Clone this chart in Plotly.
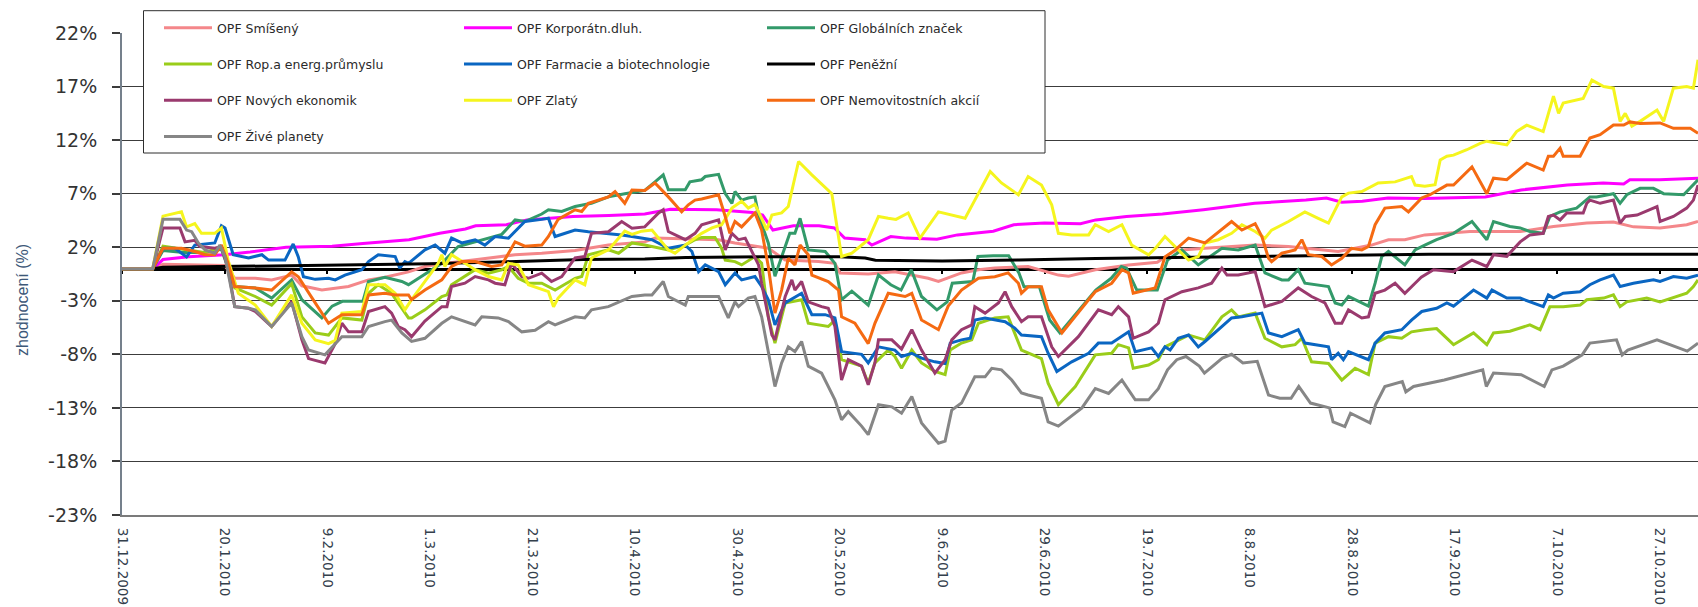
import pandas as pd
import plotly.graph_objects as go

# ---------------- data (day offsets from 31.12.2009, values in %) ----------------
BASE = pd.Timestamp("2009-12-31")

tick_days = [0, 20, 40, 60, 80, 100, 120, 140, 160, 180, 200, 220, 240, 260, 280, 300]
tick_labels = ["31.12.2009", "20.1.2010", "9.2.2010", "1.3.2010", "21.3.2010", "10.4.2010",
               "30.4.2010", "20.5.2010", "9.6.2010", "29.6.2010", "19.7.2010", "8.8.2010",
               "28.8.2010", "17.9.2010", "7.10.2010", "27.10.2010"]
y_ticks = [-23, -18, -13, -8, -3, 2, 7, 12, 17, 22]
y_tick_labels = ["-23%", "-18%", "-13%", "-8%", "-3%", "2%", "7%", "12%", "17%", "22%"]
y_title = "zhodnocení (%)"

smiseny_days = [0, 6, 8, 15, 20, 22, 26, 29.2, 33.1, 35.1,
                39, 44.2, 48.1, 51.3, 55.9, 59.1, 62.4, 68.9, 76.7, 81.9,
                88.4, 94.9, 102, 104, 116.4, 119.6, 122.9, 126.1, 129.4, 135.9,
                139.1, 140.1, 145.6, 150.8, 157.3, 159.3, 163.8, 167.1, 170.3, 176.8,
                182.7, 184.7, 189.9, 196.4, 202, 205.5, 211.3, 221.1, 227.6, 234.1,
                237.3, 240.6, 243.8, 247.1, 250.3, 254.2, 263, 272.8, 279.3, 285.8,
                291, 294.9, 300.1, 305.3, 307.5]
smiseny_vals = [0, 0, 0.4, 0.35, 0.3, -0.9, -0.9, -1.05, -0.6, -1.6,
                -2.0, -1.67, -1.05, -0.8, -0.3, 0.2, 0.45, 0.82, 1.3, 1.44,
                1.7, 2.2, 2.5, 2.85, 2.7, 2.4, 2.15, 1.9, 0.8, 0.66,
                0.5, -0.4, -0.5, -0.3, -0.9, -1.2, -0.4, -0.1, 0.05, 0.2,
                -0.6, -0.7, -0.1, 0.35, 0.6, 1.7, 1.9, 2.2, 2.07, 1.75,
                1.6, 1.9, 2.2, 2.7, 2.7, 3.15, 3.47, 3.47, 3.93, 4.25,
                4.35, 3.9, 3.8, 4.1, 4.4]

korporatni_days = [0, 6, 8, 13, 20, 25, 32, 41, 47, 51,
                   56, 62, 67, 69, 75, 79, 88, 95, 102, 107,
                   116, 123, 125, 127, 131, 136, 139, 141, 145, 146.3,
                   150, 153, 159, 163, 170, 174, 180, 187, 190, 196,
                   203, 211, 221, 231, 235, 238, 242, 247, 254, 266,
                   273, 282, 289, 293, 294.2, 300, 307.5]
korporatni_vals = [0, 0, 0.85, 1.1, 1.3, 1.55, 2.0, 2.1, 2.35, 2.5,
                   2.7, 3.3, 3.7, 4.0, 4.1, 4.55, 4.86, 4.96, 5.1, 5.55,
                   5.5, 5.25, 5.0, 3.6, 4.0, 4.0, 3.8, 2.85, 2.7, 2.2,
                   3.0, 2.85, 2.75, 3.15, 3.5, 4.1, 4.25, 4.2, 4.55, 4.87,
                   5.1, 5.5, 6.1, 6.4, 6.6, 6.2, 6.3, 6.6, 6.55, 6.7,
                   7.35, 7.8, 8.0, 7.9, 8.3, 8.3, 8.45]

globalni_days = [0, 6, 8, 12, 16, 19.4, 22, 26, 29.2, 33.1,
                 35.1, 39, 41, 43, 47, 48.1, 51.3, 54.6, 55.9, 57.8,
                 62.4, 65.6, 68.9, 74.1, 76.7, 78.6, 81.9, 83.2, 85.8, 88.4,
                 91.6, 94.9, 98.1, 102, 104, 105.6, 106.6, 109.9, 110.8, 113.1,
                 113.8, 116.4, 117.7, 119, 119.6, 120.9, 122.2, 123.5, 124.2, 126.1,
                 127.4, 129.4, 130.3, 131.3, 132.3, 133.9, 137.2, 139.1, 140.4, 142.4,
                 145.6, 147.6, 150, 152, 154, 156, 159, 161, 162, 166,
                 167, 170, 173, 175, 176, 179, 181, 183, 190, 193,
                 195, 196, 198, 202, 204, 206.8, 210, 214.6, 217.8, 221.1,
                 223, 226.3, 227.6, 229.5, 230.8, 235.4, 236.7, 238, 239.3, 243.2,
                 244.5, 245.8, 247.1, 250.3, 252.3, 254.2, 256.5, 259.8, 263.4, 266.3,
                 267.6, 270.8, 272.8, 274.7, 277.3, 278.6, 280.6, 283.8, 286.4, 287.7,
                 291, 292.3, 293.6, 296.2, 298.8, 300.8, 304.7, 307.5]
globalni_vals = [0, 0, 1.7, 1.5, 1.5, 1.8, -1.67, -1.8, -2.75, -1.05,
                 -2.9, -4.6, -3.5, -3.05, -3.05, -1.2, -0.8, -1.2, -1.5, -0.9,
                 0.5, 2.07, 2.5, 3.2, 4.55, 4.4, 5.1, 5.5, 5.34, 5.8,
                 6.1, 6.7, 7.0, 7.3, 8.1, 8.75, 7.36, 7.36, 8.1, 8.3,
                 8.6, 8.8, 7.0, 6.1, 7.2, 6.4, 6.6, 6.7, 5.0, 2.4,
                 -0.7, 2.07, 3.3, 3.3, 4.7, 1.75, 1.6, 0.5, -2.9, -2.1,
                 -3.4, -0.6, -1.5, -2.0, -0.1, -2.6, -3.85, -3.1, -1.36, -1.2,
                 1.13, 1.2, 1.2, -0.4, -1.7, -1.7, -4.8, -6.0, -2.0, -0.9,
                 0.2, 0.05, -2.0, -2.0, 0.8, 1.75, 0.35, 1.9, 1.75, 2.2,
                 -0.4, -1.05, -1.05, -0.1, -1.36, -1.67, -3.2, -3.4, -2.6, -3.5,
                 -1.36, 1.13, 1.6, 0.35, 1.75, 2.2, 2.7, 3.3, 4.4, 2.7,
                 4.4, 3.93, 3.8, 3.47, 3.3, 4.87, 5.3, 5.65, 6.7, 6.7,
                 7.0, 6.1, 6.9, 7.5, 7.5, 7.0, 6.9, 8.3]

ropa_days = [0, 6, 8, 12, 16, 19.4, 20.7, 22, 24.7, 26,
             29.2, 33.1, 35.1, 37.7, 40.3, 42.9, 46.8, 48.1, 50, 52.6,
             55.9, 56.5, 59.1, 62.4, 63.4, 64.3, 68.9, 71.5, 74.1, 75.4,
             77.3, 79.3, 81.9, 84.5, 88.4, 89.7, 91, 94.9, 96.9, 99.5,
             102, 103.4, 106.6, 109.9, 111.8, 113.1, 115.7, 117, 117.7, 119.6,
             120.9, 123.5, 124.8, 126.1, 127.4, 129.4, 132.6, 133.9, 137.8, 139.1,
             140.4, 144.3, 145.6, 146.9, 149.5, 150.8, 152.1, 154.1, 156, 158.6,
             160.6, 161.6, 163.8, 165.8, 167.1, 170.3, 172.9, 175.5, 179.4, 180.7,
             182.7, 186, 189.9, 193.1, 194.4, 196.4, 197.3, 200.3, 202.2, 203.5,
             208.1, 211.3, 214.6, 216.5, 217.8, 221.1, 223, 226.3, 228.9, 230.2,
             232.1, 235.4, 238, 240.6, 243.2, 244.5, 247.1, 249.7, 251.6, 254.2,
             256.5, 259.8, 263.7, 266.3, 267.6, 270.8, 274.7, 276.7, 278.6, 281.2,
             284.5, 285.8, 289.1, 291, 292.3, 293.6, 297.5, 300.1, 303.4, 305.3,
             306.6, 307.5]
ropa_vals = [0, 0, 2.1, 1.8, 1.5, 2.0, 0.5, -1.8, -2.3, -2.6,
             -3.4, -1.4, -4.5, -6.0, -6.2, -4.6, -4.8, -2.3, -1.5, -2.3,
             -4.6, -4.6, -3.85, -2.6, -2.45, -1.5, -0.1, -0.42, -0.1, 0.2,
             -0.9, -1.36, -1.36, -2.0, -0.9, -0.74, 1.3, 1.75, 1.44, 2.4,
             2.2, 2.07, 1.75, 2.2, 2.7, 2.9, 2.9, 1.9, 0.8, 0.66,
             0.35, 1.13, 0.5, -4.5, -6.95, -3.2, -2.9, -5.1, -5.4, -4.8,
             -8.5, -9.1, -10.7, -8.8, -7.6, -8.2, -9.3, -7.6, -8.8, -9.6,
             -9.9, -7.6, -6.95, -6.65, -5.1, -4.6, -4.5, -7.6, -8.4, -10.7,
             -12.7, -11.0, -8.05, -7.9, -7.1, -7.4, -9.3, -9.0, -8.5, -7.3,
             -6.2, -6.65, -4.5, -3.85, -4.5, -4.15, -6.5, -7.3, -7.1, -6.5,
             -8.7, -8.85, -10.4, -9.3, -9.9, -6.95, -6.35, -6.5, -5.9, -5.7,
             -5.6, -7.1, -6.0, -7.1, -6.0, -5.85, -5.25, -5.7, -3.55, -3.55,
             -3.4, -2.9, -2.75, -2.45, -3.55, -3.1, -2.75, -3.1, -2.6, -2.3,
             -1.67, -1.05]

farmacie_days = [0, 6, 8, 10.3, 12.6, 14.2, 18.1, 19.4, 20.1, 21.7,
                 24.7, 27.3, 28.6, 31.8, 33.4, 34.4, 35.4, 37.7, 40.3, 41.6,
                 43.5, 46.8, 48.1, 50, 53.3, 54.2, 55.2, 55.9, 59.1, 61.1,
                 63, 64.3, 66.3, 68.9, 70.8, 72.8, 75.4, 76.7, 78.6, 81.9,
                 83.2, 84.5, 88.4, 91, 94.9, 97.5, 99.5, 101, 103.4, 106.6,
                 109.9, 111.2, 112.5, 113.8, 116.4, 117.7, 119.6, 120.9, 123.5, 124.8,
                 126.1, 127.4, 129.4, 132.6, 134.6, 137.2, 139.1, 140.4, 144.3, 145.6,
                 147.6, 150.8, 152.1, 154.1, 156, 158.6, 160.6, 161.6, 163.8, 165.5,
                 166.4, 168.4, 172.3, 174.2, 175.5, 179.4, 180.7, 182.4, 185.3, 188.6,
                 190.5, 193.1, 196.4, 197.7, 200.9, 202.2, 203.5, 204.5, 206.1, 208.1,
                 210, 211.3, 214.6, 216.5, 218.5, 222.4, 223.7, 226.3, 229.5, 230.8,
                 235.4, 236, 237.3, 238.3, 239.3, 243.2, 244.5, 246.4, 249.7, 251.6,
                 253.6, 256.5, 258.5, 259.8, 263.7, 266.3, 267.3, 270.2, 272.8, 277.3,
                 278.3, 279.3, 281.2, 284.5, 286.4, 288.4, 291, 292.3, 294.9, 298.8,
                 300.1, 302.7, 305.3, 307.5]
farmacie_vals = [0, 0, 1.9, 1.9, 1.1, 2.2, 2.4, 4.0, 3.8, 1.3,
                 1.0, 1.3, 0.8, 0.8, 2.3, 1.1, -0.75, -1.0, -0.9, -1.05,
                 -0.6, -0.1, 0.66, 1.3, 1.13, 0.05, 0.66, 0.5, 1.75, 2.2,
                 1.44, 2.85, 2.4, 2.7, 2.2, 3.0, 2.85, 3.5, 4.4, 4.6,
                 4.7, 3.0, 3.6, 3.45, 3.3, 3.15, 3.0, 2.9, 2.7, 1.9,
                 2.2, 1.6, -0.28, 0.35, -0.28, -1.5, -0.4, -1.05, -0.74, -1.67,
                 -2.9, -5.25, -3.2, -2.3, -4.3, -4.3, -4.6, -7.75, -8.0, -8.8,
                 -7.3, -7.6, -8.2, -7.9, -8.35, -8.7, -8.85, -6.95, -6.65, -6.5,
                 -4.8, -4.6, -4.95, -5.55, -6.2, -6.35, -7.9, -9.6, -8.7, -7.9,
                 -6.95, -6.95, -5.9, -7.75, -7.4, -8.2, -7.3, -7.6, -6.5, -6.2,
                 -7.3, -6.8, -5.4, -4.6, -4.5, -4.15, -6.0, -6.35, -5.7, -6.95,
                 -7.3, -8.5, -7.9, -8.5, -7.75, -8.5, -6.95, -6.0, -5.7, -4.8,
                 -4.0, -3.7, -3.2, -3.5, -2.0, -2.75, -2.0, -2.75, -2.75, -3.55,
                 -2.45, -2.75, -2.3, -2.15, -1.5, -1.05, -0.6, -1.67, -1.36, -1.05,
                 -1.2, -0.74, -0.9, -0.6]

penezni_days = [0, 6, 8, 20, 35, 50, 60, 75, 90, 102, 110, 125, 140, 145, 147, 160,
                175, 190, 205, 220, 240, 255, 307.5]
penezni_vals = [0, 0, 0.12, 0.2, 0.3, 0.35, 0.45, 0.65, 0.85, 0.9, 1.05, 1.12, 1.12, 1.0, 0.78, 0.72,
                0.8, 0.95, 1.05, 1.15, 1.3, 1.35, 1.35]

novych_days = [0, 6, 8, 11.3, 12.3, 14.2, 15.2, 18.1, 19.4, 20.7,
               22, 24.7, 26, 29.2, 33.1, 35.1, 36.4, 39.6, 41.6, 42.9,
               44.2, 46.8, 48.1, 51.3, 52.6, 53.9, 55.2, 56.5, 59.1, 62.4,
               63.4, 64.3, 66.9, 68.9, 71.5, 72.8, 74.7, 76, 78, 79.3,
               81.9, 83.8, 85.8, 88.4, 90.3, 91.6, 94.9, 97.5, 99.5, 102,
               104.7, 105.6, 106.6, 109.9, 111.8, 113.1, 116.4, 117, 117.7, 119,
               120.3, 121.6, 124.2, 124.8, 126.8, 127.4, 129.4, 130.7, 131.3, 132.6,
               133.9, 136.5, 137.8, 139.1, 140.4, 141.7, 144.3, 145.6, 146.9, 147.6,
               150.2, 152.1, 154.1, 156, 158.6, 160.6, 161.9, 163.8, 165.8, 166.4,
               168.4, 171, 172.3, 173.6, 175.5, 176.8, 179.4, 181.4, 182.7, 186.6,
               190.5, 193.1, 194.4, 196.4, 197.3, 200.3, 202.2, 203.5, 206.8, 210,
               212.6, 214.6, 215.6, 217.8, 219.8, 221.1, 223, 226.3, 229.5, 232.1,
               234.7, 236.7, 238, 239.3, 241.9, 243.2, 244.5, 246.4, 248.4, 250.3,
               252.3, 253.5, 255.9, 259.8, 263.4, 266.3, 267.6, 270.2, 272.8, 274.7,
               277.3, 278.3, 279.3, 280.6, 281.9, 285.1, 285.8, 286.4, 288.4, 291,
               292.3, 293.3, 295.6, 299.5, 300.1, 302.7, 305.3, 306.6, 307.5]
novych_vals = [0, 0, 3.8, 3.8, 2.5, 2.65, 2.07, 1.9, 2.07, 0,
               -3.55, -3.7, -4.0, -5.4, -3.05, -6.65, -8.4, -8.8, -7.0, -5.1,
               -5.9, -5.9, -4.0, -3.55, -4.15, -5.4, -5.7, -6.35, -4.9, -3.55,
               -3.55, -1.67, -1.36, -0.74, -1.05, -1.36, -1.5, 0.5, -0.74, -0.9,
               -0.42, -1.2, -0.74, 1.0, 1.13, 3.3, 3.45, 4.4, 3.77, 3.9,
               5.2, 5.5, 3.47, 2.7, 3.3, 4.1, 4.55, 3.3, 1.75, 3.3,
               2.7, 2.85, 0.35, -1.36, -6.2, -6.65, -2.6, -1.05, -2.0, -1.2,
               -3.1, -3.55, -3.7, -5.4, -10.4, -8.5, -9.1, -10.85, -8.8, -6.65,
               -6.65, -7.5, -5.7, -7.6, -9.75, -8.5, -6.65, -5.7, -5.25, -3.55,
               -4.15, -3.2, -2.15, -3.55, -4.95, -4.5, -4.5, -7.3, -8.2, -6.35,
               -3.85, -4.3, -3.55, -4.5, -6.5, -5.9, -5.1, -2.9, -2.15, -1.8,
               -1.36, 0.05, -0.6, -0.6, -0.4, -0.28, -3.55, -3.05, -1.8, -2.6,
               -3.2, -5.1, -5.1, -3.85, -4.6, -4.5, -2.3, -2.0, -1.36, -2.3,
               -1.36, -0.8, -0.1, -0.28, 0.8, 0.2, 1.3, 1.15, 2.5, 3.15,
               3.3, 4.87, 5.0, 4.55, 5.2, 5.2, 6.1, 6.4, 6.1, 6.4,
               4.25, 4.87, 5.0, 5.8, 4.4, 4.87, 5.65, 6.4, 7.8]

zlaty_days = [0, 6, 8, 11.6, 12.6, 14.2, 15.5, 18.1, 19.4, 20.7,
              22.7, 26, 29.2, 33.1, 35.1, 37.7, 40.3, 41.6, 42.9, 46.8,
              48.1, 51.3, 53.3, 55.2, 56.5, 59.1, 61.7, 62.4, 63, 64.3,
              68.9, 71.5, 74.1, 75.4, 77.3, 79.3, 83.2, 84.2, 85.1, 88.4,
              90.3, 91.6, 94.9, 98.1, 99.5, 101.4, 103.4, 106.6, 107.9, 109.9,
              113.1, 115.1, 117, 119, 120.9, 122.2, 123.5, 124.8, 125.8, 126.8,
              128.7, 130, 132, 134.6, 138.5, 140.4, 142.4, 145.6, 147.6, 149.5,
              151, 153.4, 155.7, 159.3, 161.9, 164.5, 166.4, 169.4, 171.6, 174.9,
              176.8, 179.4, 181.4, 182.7, 185.3, 188.6, 189.9, 192.5, 195.1, 197,
              200.3, 201.8, 203.5, 208.1, 210, 211.3, 213.9, 216.5, 218.5, 221.1,
              223, 224.3, 227.6, 230.8, 233.4, 235.4, 238, 239.3, 241.9, 243.2,
              245.1, 248.4, 251.6, 252.3, 254.2, 256.2, 257.2, 258.5, 259.8, 262.4,
              265, 266.3, 270.2, 272.1, 274.1, 277.3, 279.3, 280.3, 281.2, 285.1,
              286.8, 289.1, 291, 292.3, 293.3, 294.6, 296.2, 299.5, 300.8, 302.7,
              305.3, 306.6, 307.5]
zlaty_vals = [0, 0, 4.9, 5.3, 3.9, 4.2, 3.3, 3.3, 3.8, 0.8,
              -2.3, -3.4, -5.4, -2.45, -5.1, -6.65, -7.0, -6.7, -4.15, -4.0,
              -1.5, -1.5, -2.3, -3.85, -2.9, -1.2, 0.5, 1.3, 0.2, 1.3,
              -0.1, -0.74, -1.05, 0.5, 0.35, -1.5, -2.15, -3.55, -2.75, -1.05,
              -1.5, 1.0, 1.75, 3.5, 3.2, 3.5, 3.6, 1.75, 1.44, 2.2,
              3.3, 3.8, 4.1, 5.65, 6.3, 5.65, 6.0, 4.7, 3.6, 5.0,
              5.2, 5.8, 10.0, 8.75, 7.0, 1.13, 1.44, 2.7, 4.87, 4.7,
              4.6, 5.2, 2.85, 5.3, 5.0, 4.7, 6.4, 9.07, 8.0, 6.9,
              8.6, 7.8, 5.96, 3.3, 3.15, 3.15, 4.1, 3.47, 4.1, 2.2,
              1.29, 2.0, 3.0, 0.8, 1.13, 2.4, 2.7, 3.3, 4.1, 3.47,
              2.85, 3.6, 4.4, 5.3, 4.7, 4.25, 6.7, 7.05, 7.2, 7.5,
              8.0, 8.1, 8.6, 7.8, 7.7, 7.83, 10.15, 10.5, 10.6, 11.1,
              11.7, 11.9, 11.55, 12.8, 13.4, 12.8, 16.1, 14.5, 15.45, 15.9,
              17.6, 17.0, 16.85, 13.75, 14.5, 13.3, 13.75, 14.8, 13.75, 16.85,
              17.0, 16.85, 19.5]

nemovitostni_days = [0, 6, 8, 11.6, 14.2, 16.2, 18.1, 19.4, 20.7, 22,
                     26, 29.2, 33.1, 34.4, 37.7, 40.3, 42.9, 46.8, 48.1, 51.3,
                     53.3, 55.9, 56.5, 59.1, 62.4, 64.3, 66.3, 68.9, 72.1, 74.1,
                     76.7, 78.6, 81.9, 83.2, 85.1, 88.4, 89.7, 91, 94.9, 96.2,
                     98.1, 99.5, 102, 104, 106.6, 109.2, 110.5, 111.8, 113.1, 116.4,
                     117.7, 118.6, 119.6, 120.9, 123.5, 124.8, 126.1, 127.4, 128.7, 130,
                     131.3, 132.3, 133.9, 134.6, 137.8, 139.8, 140.4, 143, 145.6, 146.9,
                     149.5, 152.8, 154.1, 156, 159.3, 161.2, 163.8, 167.1, 170.3, 172.9,
                     174.9, 175.5, 176.8, 179.4, 180.7, 183.4, 188.6, 189.9, 193.1, 195.1,
                     196.4, 197.3, 201.6, 203.5, 205.5, 208.1, 211.3, 216.5, 218.5, 221.1,
                     222.4, 223.7, 224.3, 226.3, 228.9, 230.2, 231.5, 234.1, 236, 238,
                     239.9, 241.9, 243.2, 244.5, 246.4, 249.7, 251, 253.6, 255.2, 258.5,
                     259.8, 263.4, 266.3, 267.6, 270.2, 274.1, 277.3, 278.3, 279.3, 280.6,
                     281.2, 284.5, 286.4, 288.4, 291, 293, 294.2, 296.2, 300.1, 302.7,
                     306, 307.5]
nemovitostni_vals = [0, 0, 1.9, 1.9, 1.6, 1.3, 1.3, 2.2, 0.5, -1.67,
                     -1.8, -2.0, -0.3, -0.75, -3.2, -5.1, -4.3, -4.3, -2.45, -2.3,
                     -2.45, -2.45, -2.9, -2.0, -1.05, 0.2, 0.66, 0.66, 0.2, 0.35,
                     2.5, 2.1, 2.2, 3.0, 4.6, 5.5, 5.34, 6.1, 6.7, 7.2,
                     6.1, 7.35, 7.3, 8.0, 6.7, 5.3, 5.96, 6.4, 6.5, 6.9,
                     4.87, 3.3, 4.4, 3.9, 5.2, 3.6, 0.2, -4.15, -2.0, 0.97,
                     0.35, 2.2, 1.3, -0.6, -1.2, -2.0, -4.5, -5.1, -7.0, -5.1,
                     -2.3, -2.6, -2.3, -4.8, -5.7, -3.5, -2.0, -0.9, -0.75, -0.4,
                     -1.36, -2.3, -1.7, -1.7, -3.85, -6.0, -2.9, -2.15, -1.36, -0.1,
                     -0.4, -2.3, -1.8, 1.1, 1.75, 2.85, 2.4, 4.4, 3.6, 4.2,
                     3.0, 0.97, 0.66, 1.44, 1.75, 2.7, 1.3, 1.13, 0.35, 0.97,
                     1.9, 1.75, 2.07, 4.1, 5.65, 5.8, 5.3, 6.6, 6.9, 7.8,
                     7.8, 9.5, 7.0, 8.45, 8.3, 9.85, 9.2, 10.5, 10.5, 11.25,
                     10.5, 10.5, 12.2, 12.5, 13.4, 13.4, 13.7, 13.55, 13.6, 13.1,
                     13.1, 12.65]

zive_days = [0, 6, 8, 11.3, 12.6, 13.6, 14.9, 16.2, 18.1, 19.1,
             20.1, 22, 24.7, 26, 29.2, 33.1, 35.1, 36.4, 39.6, 41.6,
             42.9, 46.8, 48.1, 51.3, 52.6, 54.6, 56.5, 59.1, 62.4, 64.3,
             66.3, 68.9, 70.2, 73.4, 75.4, 78, 80.6, 83.2, 84.5, 88.4,
             90.3, 91.6, 94.9, 97.5, 99.5, 102, 103.4, 105.6, 106.6, 109.9,
             110.5, 116.4, 118.3, 119.6, 120.3, 122.2, 123.5, 124.8, 126.1, 127.4,
             128.7, 130, 131.3, 132.6, 133.9, 136.5, 139.1, 140.4, 141.7, 144.3,
             145.6, 147.6, 150.2, 152.1, 154.1, 156, 159.3, 160.6, 161.9, 163.8,
             166.4, 168.4, 169.7, 171.6, 173.6, 175.5, 176.8, 179.4, 180.7, 182.7,
             187.3, 189.9, 192.5, 195.1, 197.7, 200.3, 202.2, 204, 205.8, 207.6,
             210.2, 211.2, 214.7, 216.5, 218.7, 221.5, 223.7, 225.9, 228.1, 229.6,
             231.9, 235.6, 236.3, 238.6, 239.7, 243.5, 244.6, 246.4, 249.8, 250.5,
             252, 258, 265.5, 266.2, 267.6, 273, 277.5, 279, 281.2, 284.9,
             286.4, 291.6, 292.7, 293.8, 299.5, 305.4, 307.5]
zive_vals = [0, 0, 4.6, 4.6, 3.6, 3.45, 2.4, 1.75, 1.44, 2.2,
             1.1, -3.55, -3.7, -3.85, -5.4, -3.2, -6.35, -7.6, -8.05, -7.0,
             -6.35, -6.35, -5.4, -4.95, -4.8, -6.0, -6.8, -6.5, -5.1, -4.5,
             -4.8, -5.25, -4.5, -4.6, -4.95, -5.9, -5.75, -4.95, -5.25, -4.5,
             -4.6, -3.85, -3.55, -3.05, -2.6, -2.45, -2.45, -1.2, -2.6, -3.4,
             -2.6, -2.6, -4.6, -3.1, -3.55, -2.75, -2.6, -4.5, -7.9, -11.0,
             -8.8, -7.3, -7.75, -6.8, -9.1, -9.75, -12.25, -14.1, -13.35, -14.7,
             -15.5, -12.7, -12.9, -13.5, -11.95, -14.4, -16.3, -16.1, -13.2, -12.55,
             -10.1, -10.1, -9.3, -9.45, -10.4, -11.6, -11.8, -12.1, -14.3, -14.7,
             -13.0, -11.2, -11.65, -10.4, -12.25, -12.25, -11.2, -9.45, -8.5, -8.2,
             -9.1, -9.75, -8.35, -8.0, -8.8, -8.65, -11.8, -12.1, -12.1, -11.0,
             -12.55, -13.0, -14.3, -14.75, -13.5, -14.4, -12.7, -11.0, -10.55, -11.5,
             -11.0, -10.4, -9.45, -11.0, -9.75, -9.9, -11.0, -9.45, -9.1, -8.05,
             -6.95, -6.65, -8.05, -7.6, -6.65, -7.7, -6.95]

# (name, days, values, colour, legend column) in drawing order
series = [
    ("OPF Smíšený", smiseny_days, smiseny_vals, "#F4878A", "legend"),
    ("OPF Korporátn.dluh.", korporatni_days, korporatni_vals, "#FF00FF", "legend2"),
    ("OPF Globálních značek", globalni_days, globalni_vals, "#339A6A", "legend3"),
    ("OPF Rop.a energ.průmyslu", ropa_days, ropa_vals, "#9ACD1A", "legend"),
    ("OPF Farmacie a biotechnologie", farmacie_days, farmacie_vals, "#0A66C2", "legend2"),
    ("OPF Peněžní", penezni_days, penezni_vals, "#000000", "legend3"),
    ("OPF Nových ekonomik", novych_days, novych_vals, "#9A3A6E", "legend"),
    ("OPF Zlatý", zlaty_days, zlaty_vals, "#F5F51E", "legend2"),
    ("OPF Nemovitostních akcií", nemovitostni_days, nemovitostni_vals, "#F56A12", "legend3"),
    ("OPF Živé planety", zive_days, zive_vals, "#868686", "legend"),
]

# ---------------- figure ----------------
W, H = 1698, 607
ML, MR, MT, MB = 122, 0, 33, 92
PW, PH = W - ML - MR, H - MT - MB
X_END_DAYS = 307.5
WIDE_FONT = "DejaVu Sans, Verdana, sans-serif"


def to_dates(days):
    return [BASE + pd.Timedelta(days=float(d)) for d in days]


fig = go.Figure()
for name, days, vals, color, leg in series:
    assert len(days) == len(vals), name
    fig.add_trace(go.Scatter(
        x=to_dates(days), y=vals, mode="lines", name=name,
        line=dict(color=color, width=3), legend=leg, legendgroup=name,
    ))

tick_dates = to_dates(tick_days)
x_range = [BASE, BASE + pd.Timedelta(days=X_END_DAYS)]

# helper trace so that the zero-level axis (x2) is drawn
fig.add_trace(go.Scatter(x=[tick_dates[0]], y=[None], xaxis="x2", showlegend=False,
                         hoverinfo="skip", mode="lines"))

ITEM_W = 48
leg_common = dict(bgcolor="rgba(0,0,0,0)", borderwidth=0, orientation="v",
                  font=dict(family=WIDE_FONT, size=12.5, color="#2a2a2a"),
                  xref="container", yref="container", xanchor="left", yanchor="top",
                  tracegroupgap=17, traceorder="grouped", itemwidth=ITEM_W)
leg_top = 1 - 13.2 / H
# legend columns: x of the start of the sample line (px) minus the 5 px item padding
col_x = [164 - 5, 464 - 5, 767 - 5]

fig.update_layout(
    width=W, height=H,
    margin=dict(l=ML, r=MR, t=MT, b=MB, autoexpand=False),
    paper_bgcolor="white", plot_bgcolor="white",
    font=dict(family=WIDE_FONT, color="#333333"),
    showlegend=True,
    legend=dict(x=col_x[0] / W, y=leg_top, **leg_common),
    legend2=dict(x=col_x[1] / W, y=leg_top, **leg_common),
    legend3=dict(x=col_x[2] / W, y=leg_top, **leg_common),
    xaxis=dict(
        type="date", range=x_range, tickvals=tick_dates, ticktext=tick_labels,
        tickangle=90, showgrid=False, zeroline=False,
        showline=True, linecolor="#7b7b7b", linewidth=2, ticks="",
        tickfont=dict(family=WIDE_FONT, size=13.5, color="#34404c"), ticklabelstandoff=8,
    ),
    xaxis2=dict(
        type="date", range=x_range, overlaying="x", anchor="free", position=23 / 45,
        side="bottom", tickvals=tick_dates, showticklabels=False,
        ticks="outside", ticklen=4, tickwidth=1.5, tickcolor="#000000",
        showline=True, linecolor="#000000", linewidth=2.5,
        showgrid=False, zeroline=False, layer="below traces",
    ),
    yaxis=dict(
        range=[-23, 22], tickvals=y_ticks, ticktext=y_tick_labels,
        showgrid=True, gridcolor="#3c3c3c", gridwidth=1, zeroline=False,
        showline=True, linecolor="#75808c", linewidth=2,
        ticks="outside", ticklen=8, tickwidth=1.5, tickcolor="#3c3c3c",
        tickfont=dict(family=WIDE_FONT, size=19, color="#333333"), ticklabelstandoff=11,
    ),
)

# y-axis title as a rotated annotation left of the tick labels
TITLE_CX, TITLE_CY = 22, 300
fig.add_annotation(text=y_title, xref="paper", yref="paper",
                   x=(TITLE_CX - ML) / PW, y=(H - MB - TITLE_CY) / PH,
                   xanchor="center", yanchor="middle", textangle=-90, showarrow=False,
                   font=dict(family="Liberation Sans, Arial, sans-serif", size=16, color="#3d5878"))

# legend frame (white box that covers the gridlines behind the legend)
box_l, box_r, box_t, box_b = 143.5, 1045, 10.7, 153
fig.add_shape(type="rect", xref="paper", yref="paper",
              x0=(box_l - ML) / PW, x1=(box_r - ML) / PW,
              y0=(H - MB - box_b) / PH, y1=(H - MB - box_t) / PH,
              fillcolor="white", line=dict(color="#2f2f2f", width=1), layer="above")

fig.write_html("out.html", include_plotlyjs=True, config={"displayModeBar": False},
               post_script="document.body.style.margin='0';document.body.style.overflow='hidden';")
